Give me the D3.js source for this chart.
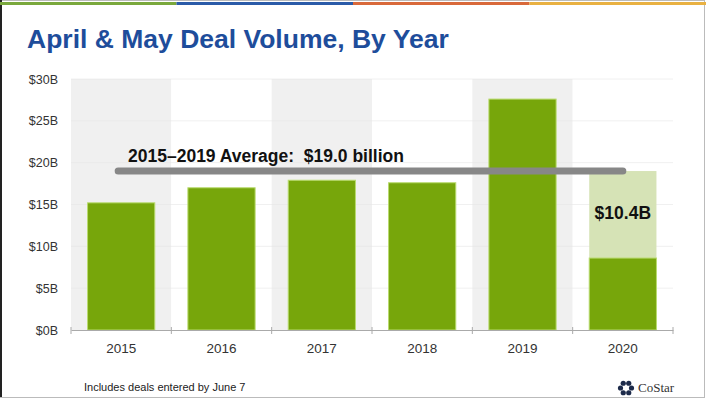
<!DOCTYPE html>
<html>
<head>
<meta charset="utf-8">
<script src="https://cdn.jsdelivr.net/npm/d3@7"></script>
<style>
  body { margin: 0; background: #fff; }
  svg { display: block; font-family: "Liberation Sans", Arial, sans-serif; }
</style>
</head>
<body>
<svg id="chart" width="706" height="400"></svg>
<script>
// chart values
var years = ["2015", "2016", "2017", "2018", "2019", "2020"];
var volume = [15.2, 17.0, 17.9, 17.6, 27.6, 8.6];   // $B, April + May
var average = 19.0;                                  // 2015-2019 avg
var yTicks = [0, 5, 10, 15, 20, 25, 30];
var stripeColors = ["#7aa83c", "#2b5ba8", "#d9693a", "#e9b142"];

var width = 706, height = 400;
var margin = {top: 79, right: 33, bottom: 70, left: 71};

var svg = d3.select("#chart");

// slide frame
svg.append("rect")
    .attr("x", 0.5).attr("y", 0.5)
    .attr("width", width - 2).attr("height", height - 3)
    .attr("fill", "none")
    .attr("stroke", "#bbb");
svg.append("line")
    .attr("x1", 1).attr("x2", 1).attr("y1", 0).attr("y2", height - 3)
    .attr("stroke", "#222").attr("stroke-width", 2);

// colour stripe on top
var stripe = d3.scaleBand().domain(d3.range(stripeColors.length)).range([0, width]);
svg.selectAll(".stripe").data(stripeColors).enter().append("rect")
    .attr("class", "stripe")
    .attr("x", function(d, i) { return stripe(i); })
    .attr("y", 2)
    .attr("width", stripe.bandwidth())
    .attr("height", 3)
    .attr("fill", function(d) { return d; });

// title
svg.append("text")
    .attr("x", 27)
    .attr("y", 48)
    .attr("font-size", 26.5)
    .attr("font-weight", "bold")
    .attr("fill", "#1e4d9b")
    .text("April & May Deal Volume, By Year");

var x = d3.scaleBand()
    .domain(years)
    .range([margin.left, width - margin.right]);

var y = d3.scaleLinear()
    .domain([0, 30])
    .range([height - margin.bottom, margin.top]);

var barW = x.bandwidth() * 0.67;

// alternating background bands
svg.selectAll(".band").data(years).enter().append("rect")
    .attr("class", "band")
    .attr("x", function(d) { return x(d); })
    .attr("y", y(30))
    .attr("width", x.bandwidth())
    .attr("height", y(0) - y(30))
    .attr("fill", function(d, i) { return i % 2 == 0 ? "#f0f0f0" : "#ffffff"; });

// faint gridlines
svg.selectAll(".grid").data(yTicks.slice(1)).enter().append("line")
    .attr("class", "grid")
    .attr("x1", margin.left)
    .attr("x2", width - margin.right)
    .attr("y1", function(d) { return y(d); })
    .attr("y2", function(d) { return y(d); })
    .attr("stroke", "#e6e6e6")
    .attr("stroke-opacity", 0.6);

// 2020 gap up to the average
svg.append("rect")
    .attr("x", x("2020") + (x.bandwidth() - barW) / 2)
    .attr("y", y(average))
    .attr("width", barW)
    .attr("height", y(volume[5]) - y(average))
    .attr("fill", "#d6e3b6");

// bars
svg.selectAll(".bar").data(volume).enter().append("rect")
    .attr("class", "bar")
    .attr("x", function(d, i) { return x(years[i]) + (x.bandwidth() - barW) / 2; })
    .attr("y", function(d) { return y(d); })
    .attr("width", barW)
    .attr("height", function(d) { return y(0) - y(d); })
    .attr("fill", "#77a60b")
    .attr("stroke", "#b9db6e")
    .attr("stroke-width", 1);

// y axis
var yAxis = svg.append("g")
    .attr("transform", "translate(" + margin.left + ",0)")
    .call(d3.axisLeft(y).tickValues(yTicks).tickSize(0).tickPadding(13)
        .tickFormat(function(d) { return "$" + d + "B"; }));
yAxis.select(".domain").remove();
yAxis.selectAll("text").attr("font-size", 12.5).attr("fill", "#333")
    .attr("font-family", "Liberation Sans, Arial, sans-serif");

// x axis
var xAxis = svg.append("g")
    .attr("transform", "translate(0," + y(0) + ")")
    .call(d3.axisBottom(x).tickSize(0).tickPadding(13));
xAxis.select(".domain").attr("stroke", "#aaa");
xAxis.selectAll("text").attr("font-size", 13.5).attr("fill", "#333")
    .attr("font-family", "Liberation Sans, Arial, sans-serif");
svg.selectAll(".xtick").data(years.concat(["end"])).enter().append("line")
    .attr("class", "xtick")
    .attr("x1", function(d) { return d == "end" ? width - margin.right : x(d); })
    .attr("x2", function(d) { return d == "end" ? width - margin.right : x(d); })
    .attr("y1", y(0) - 3)
    .attr("y2", y(0) + 4)
    .attr("stroke", "#aaa");

// average line
svg.append("line")
    .attr("x1", x("2015") + x.bandwidth() * 0.47)
    .attr("x2", x("2020") + x.bandwidth() * 0.5)
    .attr("y1", y(average))
    .attr("y2", y(average))
    .attr("stroke", "#878787")
    .attr("stroke-width", 7)
    .attr("stroke-linecap", "round");

svg.append("text")
    .attr("x", 128)
    .attr("y", y(average) - 9)
    .attr("font-size", 17.5)
    .attr("font-weight", "bold")
    .attr("fill", "#111")
    .attr("xml:space", "preserve")
    .text("2015\u20132019 Average:  $" + average.toFixed(1) + " billion");

svg.append("text")
    .attr("x", x("2020") + x.bandwidth() / 2)
    .attr("y", y((average + volume[5]) / 2) + 4)
    .attr("text-anchor", "middle")
    .attr("font-size", 17.5)
    .attr("font-weight", "bold")
    .attr("fill", "#111")
    .text("$" + (average - volume[5]).toFixed(1) + "B");

// footnote
svg.append("text")
    .attr("x", 84)
    .attr("y", 391)
    .attr("font-size", 11)
    .attr("fill", "#222")
    .text("Includes deals entered by June 7");

// CoStar mark
var logo = svg.append("g").attr("transform", "translate(626,388)");
d3.range(6).forEach(function(i) {
    var a = i * Math.PI / 3;
    logo.append("circle")
        .attr("cx", Math.cos(a) * 5.5)
        .attr("cy", Math.sin(a) * 5.5)
        .attr("r", 2.6)
        .attr("fill", "#1c2a4a");
});
svg.append("text")
    .attr("x", 638)
    .attr("y", 392)
    .attr("font-size", 13)
    .attr("font-family", "Liberation Serif, serif")
    .attr("fill", "#333")
    .text("CoStar");
</script>
</body>
</html>
